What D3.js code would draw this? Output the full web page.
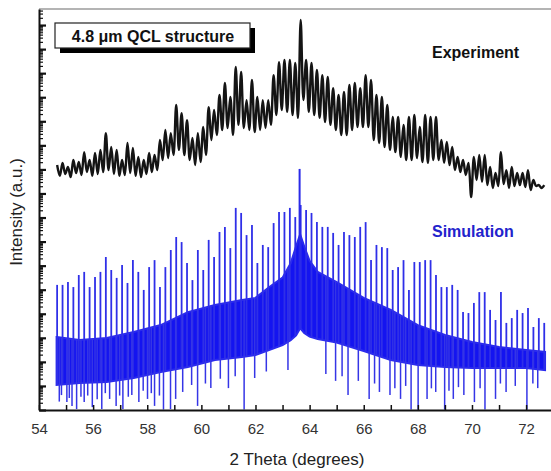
<!DOCTYPE html>
<html><head><meta charset="utf-8">
<script src="https://cdn.jsdelivr.net/npm/d3@7"></script>
<style>body{margin:0;background:#fff}svg{display:block}</style>
</head><body><svg id="c" width="551" height="471"></svg>
<script>
// Satellite peak positions (2 theta, degrees)
const satX = [54.67,54.87,55.07,55.27,55.47,55.67,55.87,56.07,56.27,56.47,
 56.67,56.87,57.07,57.27,57.47,57.67,57.87,58.07,58.27,58.47,
 58.67,58.87,59.07,59.27,59.47,59.67,59.87,60.07,60.27,60.47,
 60.67,60.87,61.07,61.27,61.47,61.67,61.87,62.07,62.27,62.47,
 62.67,62.87,63.07,63.27,63.47,63.67,63.87,64.07,64.27,64.47,
 64.67,64.87,65.07,65.27,65.47,65.67,65.87,66.07,66.27,66.47,
 66.67,66.87,67.07,67.27,67.47,67.67,67.87,68.07,68.27,68.47,
 68.67,68.87,69.07,69.27,69.47,69.67,69.87,70.07,70.27,70.47,
 70.67,70.87,71.07,71.27,71.47,71.67,71.87,72.07,72.27,72.47,72.67];

// Experiment: log10(intensity) at peaks and at the valleys that follow them
const expPeakLog = [10.18,10.27,10.10,10.39,10.31,10.72,10.39,10.68,10.81,11.51,
 10.93,10.81,10.39,11.10,10.89,10.52,10.39,10.68,10.60,11.22,
 11.64,11.51,12.68,12.34,12.05,11.31,11.51,11.76,12.59,12.47,
 13.09,13.59,13.01,14.26,14.05,12.88,13.72,13.01,12.88,12.88,
 13.92,14.46,14.55,14.55,14.42,16.21,14.55,14.42,14.13,13.92,
 13.84,13.38,13.09,13.22,13.51,13.59,13.38,13.92,13.72,13.09,
 13.01,12.68,12.18,12.18,11.85,12.18,12.26,11.76,12.26,12.18,
 12.18,11.22,11.14,10.93,10.52,10.39,10.27,10.52,10.60,10.60,
 10.10,9.85,10.72,9.97,10.10,9.85,9.85,9.97,9.56,9.35,9.35];
const expValleyLog = [9.73,9.81,9.68,9.85,9.77,9.89,9.73,9.81,9.89,9.97,9.81,9.73,
 9.77,9.85,9.73,9.68,9.81,9.89,9.97,
 10.39,10.47,10.60,10.81,10.60,10.39,
 10.18,10.31,10.60,
 11.22,11.43,11.64,11.72,11.43,
 11.85,11.72,11.64,11.55,11.64,11.72,11.85,
 12.26,12.47,12.39,12.26,12.14,
 12.88,
 12.39,12.26,12.14,11.97,11.85,
 11.64,11.43,11.43,11.64,11.76,11.76,11.76,
 11.22,11.10,10.93,10.81,10.72,
 10.52,10.39,10.39,10.47,10.31,10.27,10.39,10.39,10.27,10.18,
 9.97,9.89,9.77,8.85,9.56,9.48,
 9.35,9.23,9.31,9.39,9.23,9.31,9.35,9.27,9.14,9.31,9.23];

// Simulation: satellite spike tops (log10 intensity)
const simSpikeLog = [5.20,5.20,5.32,5.11,5.61,5.74,5.11,5.53,5.74,6.36,
 5.82,5.49,6.03,5.28,6.23,5.74,4.99,5.94,6.23,5.11,
 5.94,6.65,7.19,6.98,6.11,5.40,6.65,5.82,7.07,6.36,
 7.40,7.61,6.73,8.40,8.19,7.27,7.69,6.11,6.86,6.77,
 7.77,8.23,8.23,8.40,8.02,8.52,8.31,8.19,7.81,7.61,
 7.61,7.36,6.86,7.40,7.27,7.19,7.61,7.81,6.23,6.86,
 6.77,6.73,5.82,5.94,6.23,4.99,6.15,6.15,6.23,6.23,
 5.61,5.11,5.11,5.20,4.99,4.07,4.03,4.45,4.90,4.90,
 4.16,3.74,4.90,3.62,3.82,4.16,4.03,4.24,3.45,3.82,3.62];
// Substrate peak of the simulation
const simMainX = [63.63];
const simMainLog = [10.02];

// Simulation: dense fringe band envelope
const bandX = [54.65,55.5,56.5,57.5,58.5,59.5,60.5,61.5,62.0,62.5,63.0,63.3,63.5,63.65,63.8,64.0,64.3,65.0,66.0,67.0,68.0,69.0,70.0,71.0,72.0,72.7];
const bandUpper = [3.03,2.91,2.99,3.24,3.53,4.07,4.36,4.57,4.66,5.10,5.50,6.10,6.80,7.30,6.80,6.20,5.74,5.32,4.66,4.16,3.53,3.12,2.83,2.62,2.49,2.41];
const bandLower = [1.04,1.12,1.16,1.33,1.58,1.79,2.08,2.20,2.29,2.49,2.70,2.90,3.10,3.40,3.20,3.05,2.95,2.80,2.45,2.08,1.87,1.79,1.75,1.75,1.75,1.66];

// Simulation: downward spikes below the band
const dipX = [54.75,54.83,55.03,55.12,55.22,55.39,55.55,55.67,55.80,55.97,56.15,56.32,56.45,56.61,56.85,56.98,57.10,57.30,57.43,57.69,57.85,58.01,58.15,58.27,58.45,58.60,58.86,59.05,59.31,59.64,59.86,60.15,60.35,60.70,61.00,61.25,61.58,61.97,62.40,63.20,
 64.60,64.96,65.20,65.42,65.80,66.20,66.40,66.58,66.97,67.15,67.36,67.55,67.75,68.01,68.34,68.50,68.66,68.99,69.15,69.31,69.50,69.70,70.09,70.30,70.48,70.87,71.05,71.26,71.60,72.03,72.25,72.43];
const dipLog = [0.35,0.62,0.33,0.50,0.17,0.04,0.55,0.33,0.60,0.12,0.45,0.04,0.70,0.46,0.17,0.60,0.04,0.55,0.62,0.33,0.80,0.46,0.70,0.17,0.60,0.02,0.04,0.46,0.75,1.04,0.17,1.10,0.91,1.30,0.91,1.40,0.02,1.33,1.60,1.66,
 1.50,1.21,1.40,0.62,1.21,0.46,1.10,0.75,0.62,0.90,0.46,1.00,0.02,0.02,0.46,0.90,0.75,0.02,0.80,0.46,0.95,0.62,0.33,0.90,0.02,0.46,1.10,0.75,1.00,0.02,1.10,0.91];

const xTicks = [54,55,56,57,58,59,60,61,62,63,64,65,66,67,68,69,70,71,72];
const xLabels = [54,56,58,60,62,64,66,68,70,72];

const mLeft = 39, mRight = 551, mTop = 9, mBottom = 410;
const svg = d3.select("#c");
const font = "'Liberation Sans', Arial, Helvetica, sans-serif";

const x = d3.scaleLinear().domain([54, 72.92]).range([mLeft, mRight]);
const y = d3.scaleLog().domain([1, Math.pow(10, 16.667)]).range([mBottom, mTop]);
const Y = v => y(Math.pow(10, v));

svg.append("defs").append("clipPath").attr("id","clip")
  .append("rect").attr("x", mLeft).attr("y", mTop).attr("width", mRight-mLeft).attr("height", mBottom-mTop);
const gPlot = svg.append("g").attr("clip-path","url(#clip)");

// Simulation band
const lowerAt = d3.scaleLinear().domain(bandX).range(bandLower).clamp(true);
const upperAt = d3.scaleLinear().domain(bandX).range(bandUpper).clamp(true);
const blue = "#1414f0";
gPlot.append("path")
  .datum(bandX.map((d,i)=>({x:d,u:bandUpper[i],l:bandLower[i]})))
  .attr("d", d3.area().x(d=>x(d.x)).y0(d=>Y(d.l)).y1(d=>Y(d.u)))
  .attr("fill", blue).attr("stroke", "#2a2aee").attr("stroke-width", 2);

// upward spikes
gPlot.append("g").selectAll("line").data(satX).join("line")
  .attr("x1", d=>x(d)).attr("x2", d=>x(d))
  .attr("y1", (d,i)=>Y(simSpikeLog[i]))
  .attr("y2", d=>Y(lowerAt(d)))
  .attr("stroke", "#2f2fe8").attr("stroke-width", 1.8);
gPlot.append("g").selectAll("line").data(simMainX).join("line")
  .attr("x1", d=>x(d)).attr("x2", d=>x(d))
  .attr("y1", (d,i)=>Y(simMainLog[i]))
  .attr("y2", d=>Y(lowerAt(d)))
  .attr("stroke", "#2a2ae8").attr("stroke-width", 2);
// downward spikes
gPlot.append("g").selectAll("line").data(dipX).join("line")
  .attr("x1", d=>x(d)).attr("x2", d=>x(d))
  .attr("y1", (d,i)=>Y(dipLog[i]))
  .attr("y2", d=>Y(upperAt(d)))
  .attr("stroke", "#3535e6").attr("stroke-width", 1.5);

// Experiment line
const expPts = [];
satX.forEach((d,i)=>{
  expPts.push([d, expPeakLog[i]]);
  if (i < satX.length-1) expPts.push([(d+satX[i+1])/2, expValleyLog[i]]);
});
gPlot.append("path").datum(expPts)
  .attr("d", d3.line().x(d=>x(d[0])).y(d=>Y(d[1])).curve(d3.curveCatmullRom.alpha(0.5)))
  .attr("fill","none").attr("stroke","#141414").attr("stroke-width",2.4)
  .attr("stroke-linejoin","round");

// Top frame line
svg.append("line").attr("x1", mLeft).attr("x2", mRight).attr("y1", mTop).attr("y2", mTop)
  .attr("stroke", "#b4b4b4").attr("stroke-width", 2);

// X axis
const xAxis = d3.axisBottom(x).tickValues(xTicks).tickSizeInner(-5).tickSizeOuter(0).tickPadding(13)
  .tickFormat(d => xLabels.includes(d) ? d : "");
const gx = svg.append("g").attr("transform", `translate(0,${mBottom})`).call(xAxis);
gx.select(".domain").attr("stroke","#111").attr("stroke-width",2);
gx.selectAll(".tick line").attr("stroke","#111").attr("stroke-width",1.5);
gx.selectAll(".tick text").attr("font-family", font).attr("font-size", 15).attr("fill","#333");

// Y axis (log, inward ticks, no labels)
const yTickVals = [];
for (let k = 0; k <= 16; k++) for (let m = 1; m <= 9; m++) {
  const v = m * Math.pow(10, k);
  if (v <= Math.pow(10, 16.667)) yTickVals.push({v, major: m === 1});
}
const yAxis = d3.axisLeft(y).tickValues(yTickVals.map(d=>d.v)).tickSizeInner(-3).tickSizeOuter(0).tickFormat("");
const gy = svg.append("g").attr("transform", `translate(${mLeft},0)`).call(yAxis);
gy.select(".domain").attr("stroke","#111").attr("stroke-width",2);
gy.selectAll(".tick line").attr("stroke","#111")
  .attr("x2", (d,i)=> yTickVals[i].major ? 7 : 4)
  .attr("stroke-width", (d,i)=> yTickVals[i].major ? 2.2 : 1.2);

// Axis titles
svg.append("text").attr("x", 297).attr("y", 465).attr("text-anchor","middle")
  .attr("font-family", font).attr("font-size", 17).attr("fill","#222").text("2 Theta (degrees)");
svg.append("text").attr("transform","translate(22,212) rotate(-90)").attr("text-anchor","middle")
  .attr("font-family", font).attr("font-size", 17).attr("fill","#222").text("Intensity (a.u.)");

// Title box with shadow
svg.append("rect").attr("x",60).attr("y",28).attr("width",195).attr("height",25).attr("fill","#000");
svg.append("rect").attr("x",55).attr("y",23).attr("width",195).attr("height",25).attr("fill","#fff")
  .attr("stroke","#222").attr("stroke-width",1.2);
svg.append("text").attr("x",153).attr("y",41.5).attr("text-anchor","middle")
  .attr("font-family", font).attr("font-size",16).attr("font-weight","bold").attr("fill","#111")
  .text("4.8 μm QCL structure");

// Series labels
svg.append("text").attr("x",432).attr("y",58).attr("font-family", font).attr("font-size",16)
  .attr("font-weight","bold").attr("fill","#111").text("Experiment");
svg.append("text").attr("x",432).attr("y",237).attr("font-family", font).attr("font-size",16)
  .attr("font-weight","bold").attr("fill","#2222cc").text("Simulation");
</script></body></html>
